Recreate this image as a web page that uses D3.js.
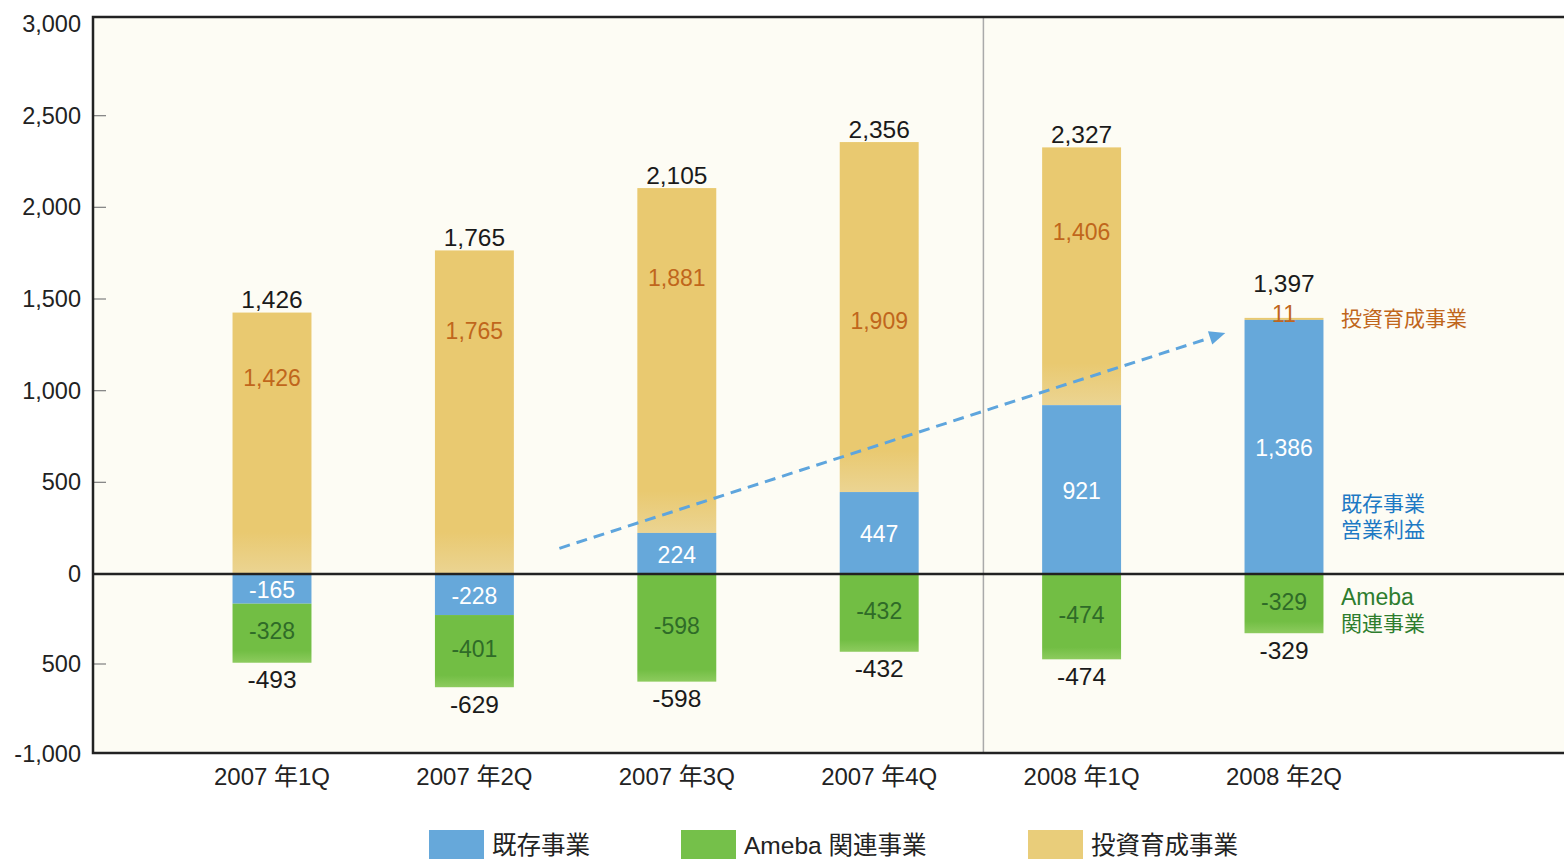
<!DOCTYPE html>
<html><head><meta charset="utf-8">
<script src="https://cdn.jsdelivr.net/npm/d3@7"></script>
<style>
html,body{margin:0;padding:0;background:#fff;}
svg{display:block;}
text{font-family:"Liberation Sans","Noto Sans CJK JP",sans-serif;}
</style></head>
<body>
<svg id="c" width="1564" height="859"></svg>
<script>
const categories = ["2007 年1Q","2007 年2Q","2007 年3Q","2007 年4Q","2008 年1Q","2008 年2Q"];
const existing   = [-165, -228, 224, 447, 921, 1386];   // 既存事業
const ameba      = [-328, -401, -598, -432, -474, -329]; // Ameba 関連事業
const invest     = [1426, 1765, 1881, 1909, 1406, 11];   // 投資育成事業
const totalsPos  = [1426, 1765, 2105, 2356, 2327, 1397];
const totalsNeg  = [-493, -629, -598, -432, -474, -329];
const yTicks      = [-1000, -500, 0, 500, 1000, 1500, 2000, 2500, 3000];
const yTickLabels = ["-1,000", "500", "0", "500", "1,000", "1,500", "2,000", "2,500", "3,000"];
const seriesNames = ["既存事業", "Ameba 関連事業", "投資育成事業"];

// layout tweaks (not data)
const investLabelFrac = [0.25, 0.25, 0.26, 0.51, 0.33, 0.3];

const fmt = d3.formatLocale({decimal: ".", thousands: ",", grouping: [3], currency: ["", ""], minus: "-"}).format(",");

const svg = d3.select("#c");
const L = 93, R = 1566, T = 17, B = 753;
const y = d3.scaleLinear().domain([-1000, 0, 3000]).range([754, 574, 24]);
const x = d3.scaleBand().domain(categories).range([170.8, 170.8 + 6 * 202.4]).paddingInner(0.61).paddingOuter(0.305);
const cx = c => x(c) + x.bandwidth() / 2;

const defs = svg.append("defs");
function vgrad(id, y1, y2, stops) {
  const g = defs.append("linearGradient").attr("id", id).attr("gradientUnits", "userSpaceOnUse")
    .attr("x1", 0).attr("y1", y1).attr("x2", 0).attr("y2", y2);
  stops.forEach(s => g.append("stop").attr("offset", s[0]).attr("stop-color", s[1]));
}

const BLUE = "#66a8da";
const YEL = "#e9c970";

// plot background
svg.append("rect").attr("x", L).attr("y", T).attr("width", R - L).attr("height", B - T).attr("fill", "#fdfcf4");

// vertical divider
const divX = (cx(categories[3]) + cx(categories[4])) / 2 + 3;
svg.append("line").attr("x1", divX).attr("x2", divX).attr("y1", T).attr("y2", B)
  .attr("stroke", "#aaa").attr("stroke-width", 1.5);

// y axis labels
const yAxis = d3.axisLeft(y).tickValues(yTicks).tickSize(0).tickFormat((d, i) => yTickLabels[i]);
const ga = svg.append("g").attr("transform", `translate(${L},0)`).call(yAxis);
ga.select(".domain").remove();
ga.selectAll("text").attr("x", -12).attr("font-size", 23.5).attr("fill", "#222")
  .attr("font-family", "Liberation Sans, sans-serif");
// inner ticks
svg.selectAll(".itick").data(yTicks.filter(d => d !== 0 && d !== 3000 && d !== -1000)).join("line")
  .attr("x1", L).attr("x2", L + 13).attr("y1", d => y(d)).attr("y2", d => y(d))
  .attr("stroke", "#888").attr("stroke-width", 1.3);

// bars
const rows = categories.map((c, i) => ({c, i, e: existing[i], a: ameba[i], v: invest[i]}));
const bw = x.bandwidth();
const g = svg.append("g");
rows.forEach(r => {
  const eBase = r.e > 0 ? r.e : 0;
  const yTop = y(eBase + r.v), yBot = y(eBase);
  vgrad("gy" + r.i, yBot - 42, yBot, [[0, YEL], [1, "#ebd492"]]);
  g.append("rect").attr("x", x(r.c)).attr("width", bw)
    .attr("y", yTop).attr("height", yBot - yTop)
    .attr("fill", r.v < 100 ? YEL : `url(#gy${r.i})`);
  // existing (blue)
  g.append("rect").attr("x", x(r.c)).attr("width", bw)
    .attr("y", y(Math.max(0, r.e))).attr("height", Math.abs(y(r.e) - y(0)))
    .attr("fill", BLUE);
  // ameba (green)
  const aTop = r.e < 0 ? r.e : 0;
  const gTop = y(aTop), gBot = y(aTop + r.a);
  vgrad("gg" + r.i, gBot - 12, gBot, [[0, "#72be44"], [1, "#8dcb5e"]]);
  g.append("rect").attr("x", x(r.c)).attr("width", bw)
    .attr("y", gTop).attr("height", gBot - gTop)
    .attr("fill", `url(#gg${r.i})`);
});

// zero line
svg.append("line").attr("x1", L).attr("x2", R).attr("y1", y(0)).attr("y2", y(0))
  .attr("stroke", "#222").attr("stroke-width", 2.5);

// frame
svg.append("path").attr("d", `M${R},${T}H${L}V${B}H${R}`).attr("fill", "none")
  .attr("stroke", "#222").attr("stroke-width", 2.5);

// value labels
rows.forEach((r, i) => {
  const eBase = r.e > 0 ? r.e : 0;
  const top = y(eBase + r.v), bot = y(eBase);
  g.append("text").attr("x", cx(r.c)).attr("y", top + investLabelFrac[i] * (bot - top) - (r.v < 100 ? 5 : 0))
    .attr("dy", "0.35em").attr("text-anchor", "middle").attr("font-size", 23).attr("fill", "#c0661c")
    .text(fmt(r.v));
  g.append("text").attr("x", cx(r.c)).attr("y", (y(r.e) + y(0)) / 2 + 1)
    .attr("dy", "0.35em").attr("text-anchor", "middle").attr("font-size", 23).attr("fill", "#fff")
    .text(fmt(r.e));
  const aTop = r.e < 0 ? r.e : 0;
  g.append("text").attr("x", cx(r.c)).attr("y", (y(aTop) + y(aTop + r.a)) / 2 - 2)
    .attr("dy", "0.35em").attr("text-anchor", "middle").attr("font-size", 23).attr("fill", "#2f6b28")
    .text(fmt(r.a));
  g.append("text").attr("x", cx(r.c)).attr("y", y(totalsPos[i]) - (r.v < 100 ? 34 : 13))
    .attr("dy", "0.35em").attr("text-anchor", "middle").attr("font-size", 24.5).attr("fill", "#1a1a1a")
    .text(fmt(totalsPos[i]));
  g.append("text").attr("x", cx(r.c)).attr("y", y(totalsNeg[i]) + 17)
    .attr("dy", "0.35em").attr("text-anchor", "middle").attr("font-size", 24.5).attr("fill", "#1a1a1a")
    .text(fmt(totalsNeg[i]));
});

// x labels
svg.selectAll(".xl").data(categories).join("text")
  .attr("x", d => cx(d)).attr("y", 777).attr("dy", "0.35em").attr("text-anchor", "middle")
  .attr("font-size", 24).attr("fill", "#222").text(d => d);

// dashed arrow
const step = x.step();
const ax1 = cx(categories[1]) + 0.42 * step, ay1 = y(140);
const ax2 = cx(categories[5]) - 0.29 * step, ay2 = y(1315);
const ang = Math.atan2(ay2 - ay1, ax2 - ax1);
const hl = 16, hw = 7;
const bx = ax2 - hl * Math.cos(ang), by = ay2 - hl * Math.sin(ang);
svg.append("line").attr("x1", ax1).attr("y1", ay1).attr("x2", bx).attr("y2", by)
  .attr("stroke", "#5ea5dd").attr("stroke-width", 3).attr("stroke-dasharray", "11,7");
svg.append("path").attr("d",
  `M${ax2},${ay2}L${bx - hw * Math.sin(ang)},${by + hw * Math.cos(ang)}L${bx + hw * Math.sin(ang)},${by - hw * Math.cos(ang)}Z`)
  .attr("fill", "#5ea5dd");

// right annotations
const annX = cx(categories[5]) + 57;
const ann = svg.append("g").attr("font-size", 21).attr("font-family", "Noto Sans CJK JP, sans-serif");
ann.append("text").attr("x", annX).attr("y", y(1397) + 1).attr("dy", "0.35em").attr("fill", "#c0661c").text("投資育成事業");
ann.append("text").attr("x", annX).attr("y", y(386)).attr("dy", "0.35em").attr("fill", "#1d79c4").text("既存事業");
ann.append("text").attr("x", annX).attr("y", y(386) + 26).attr("dy", "0.35em").attr("fill", "#1d79c4").text("営業利益");
ann.append("text").attr("x", annX).attr("y", y(-130)).attr("dy", "0.35em").attr("fill", "#2e7d2e")
  .attr("font-family", "Liberation Sans, sans-serif").attr("font-size", 23).text("Ameba");
ann.append("text").attr("x", annX).attr("y", y(-130) + 26).attr("dy", "0.35em").attr("fill", "#2e7d2e").text("関連事業");

// legend
const legX = [429, 681, 1028];
const legFill = [BLUE, "#75c04a", "#e9cd7a"];
seriesNames.forEach((n, i) => {
  svg.append("rect").attr("x", legX[i]).attr("y", 830).attr("width", 55).attr("height", 30).attr("fill", legFill[i]);
  svg.append("text").attr("x", legX[i] + 63).attr("y", 845).attr("dy", "0.35em").attr("font-size", 24.5)
    .attr("fill", "#222").text(n);
});
</script>
</body></html>
